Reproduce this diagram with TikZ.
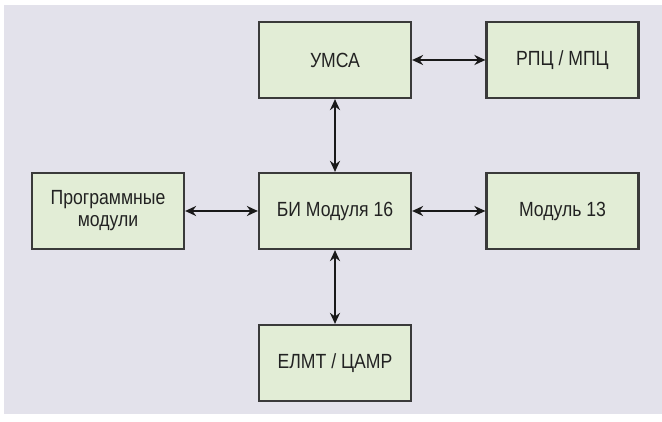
\documentclass[tikz,border=0pt]{standalone}
\usepackage{fontspec}
\setmainfont{Liberation Sans}[FakeStretch=0.86]
\usetikzlibrary{arrows.meta}
\definecolor{bgcol}{HTML}{E3E2EB}
\definecolor{boxfill}{HTML}{E2EDD6}
\definecolor{boxline}{HTML}{3A3A3A}
\definecolor{txtcol}{HTML}{222222}
\begin{document}
\begin{tikzpicture}[x=1pt,y=-1pt,
  block/.style={draw=boxline, line width=2.2pt, fill=boxfill,
    minimum width=152pt, minimum height=76pt, inner sep=0pt,
    text=txtcol, font=\fontsize{20.5}{22}\selectfont, align=center},
  link/.style={line width=2pt, draw=black!90,
    {Stealth[length=11pt,width=10pt]}-{Stealth[length=11pt,width=10pt]}}]
  % page and background
  \useasboundingbox (0,0) rectangle (662,422);
  \fill[white] (0,0) rectangle (662,422);
  \fill[bgcol] (4,5) rectangle (662,414);

  % blocks
  \node[block] (umsa) at (335,60) {УМСА};
  \node[block] (rpc)  at (562.5,60) {РПЦ / МПЦ};
  \node[block] (prog) at (108,211) {Программные\\модули};
  \node[block] (bi)   at (335,211) {БИ Модуля 16};
  \node[block] (m13)  at (562.5,211) {Модуль 13};
  \node[block] (elmt) at (335,363) {ЕЛМТ / ЦАМР};

  % two-way links
  \draw[link] (umsa.east) -- (rpc.west);
  \draw[link] (umsa.south) -- (bi.north);
  \draw[link] (prog.east) -- (bi.west);
  \draw[link] (bi.east) -- (m13.west);
  \draw[link] (bi.south) -- (elmt.north);
\end{tikzpicture}
\end{document}
